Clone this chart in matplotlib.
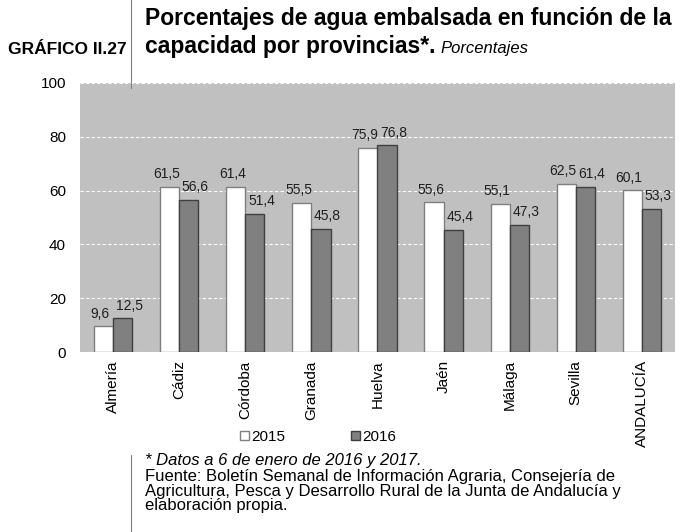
import matplotlib
matplotlib.use("Agg")
import matplotlib.pyplot as plt
import numpy as np

categories = ["Almería", "Cádiz", "Córdoba", "Granada", "Huelva", "Jaén", "Málaga", "Sevilla", "ANDALUCÍA"]
v2015 = [9.6, 61.5, 61.4, 55.5, 75.9, 55.6, 55.1, 62.5, 60.1]
v2016 = [12.5, 56.6, 51.4, 45.8, 76.8, 45.4, 47.3, 61.4, 53.3]
series_names = ["2015", "2016"]
yticks = [0, 20, 40, 60, 80, 100]

NARROW = ["Liberation Sans Narrow", "Liberation Sans", "DejaVu Sans"]
ARIAL = ["Liberation Sans", "DejaVu Sans"]

def fmt(v):
    return f"{v:.1f}".replace(".", ",")

fig = plt.figure(figsize=(6.87, 5.32), dpi=100)
ax = fig.add_axes([80/687, 1-352/532, 595/687, 269/532])
ax.set_facecolor("#c0c0c0")
for s in ax.spines.values():
    s.set_visible(False)

x = np.arange(len(categories))
w = 0.29
b1 = ax.bar(x - w/2, v2015, w, color="white", edgecolor="#7f7f7f", linewidth=1.0, zorder=3, label=series_names[0])
b2 = ax.bar(x + w/2, v2016, w, color="#808080", edgecolor="#404040", linewidth=1.0, zorder=3, label=series_names[1])

for xi, v in zip(x - w/2, v2015):
    ax.text(xi - 0.05, v + 2.0, fmt(v), ha="center", va="bottom", fontsize=10, family=ARIAL, color="#202020")
for xi, v in zip(x + w/2, v2016):
    ax.text(xi + 0.1, v + 2.0, fmt(v), ha="center", va="bottom", fontsize=10, family=ARIAL, color="#202020")

ax.set_ylim(0, 100)
ax.set_xlim(-0.5, len(categories) - 0.5)
ax.set_yticks(yticks)
ax.set_yticklabels([str(t) for t in yticks], family=ARIAL, fontsize=11)
ax.yaxis.grid(True, color="white", linestyle=(0, (3, 2)), linewidth=0.8, zorder=0)
ax.set_axisbelow(True)
ax.set_xticks(x)
ax.set_xticklabels(categories, rotation=90, family=ARIAL, fontsize=11)
ax.tick_params(axis="both", length=0)
ax.tick_params(axis="x", pad=6)
ax.tick_params(axis="y", pad=10)

leg = fig.legend(handles=[b1, b2], labels=series_names, loc="center", bbox_to_anchor=(318/687, 1-437/532),
                 ncol=2, frameon=False, prop={"family": ARIAL, "size": 11},
                 handlelength=0.6, handleheight=0.6, handletextpad=0.15, columnspacing=4.3)

fig.text(145/687, 1-18/532, "Porcentajes de agua embalsada en función de la", fontsize=16.5, fontweight="bold",
         family=NARROW, ha="left", va="center")
t2 = fig.text(145/687, 1-47/532, "capacidad por provincias*.", fontsize=16.5, fontweight="bold",
              family=NARROW, ha="left", va="center")
fig.text(8/687, 1-50/532, "GRÁFICO II.27", fontsize=12.5, fontweight="bold", family=NARROW, ha="left", va="center")

fig.canvas.draw()
bb = t2.get_window_extent()
fig.text((bb.x1 + 5)/687, 1-49/532, "Porcentajes", fontsize=12, style="italic", family=NARROW, ha="left", va="center")

fig.add_artist(plt.Line2D([131/687, 131/687], [1.0, 1-88/532], color="#808080", linewidth=0.8))
fig.add_artist(plt.Line2D([131/687, 131/687], [1-455/532, 0.0], color="#808080", linewidth=0.8))

fig.text(145/687, 1-460/532, "* Datos a 6 de enero de 2016 y 2017.", fontsize=12, style="italic", family=NARROW,
         ha="left", va="center")
foot = ("Fuente: Boletín Semanal de Información Agraria, Consejería de\n"
        "Agricultura, Pesca y Desarrollo Rural de la Junta de Andalucía y\n"
        "elaboración propia.")
fig.text(145/687, 1-469/532, foot, fontsize=12, family=NARROW, ha="left", va="top", linespacing=0.97)

fig.savefig("out.png", dpi=100)
